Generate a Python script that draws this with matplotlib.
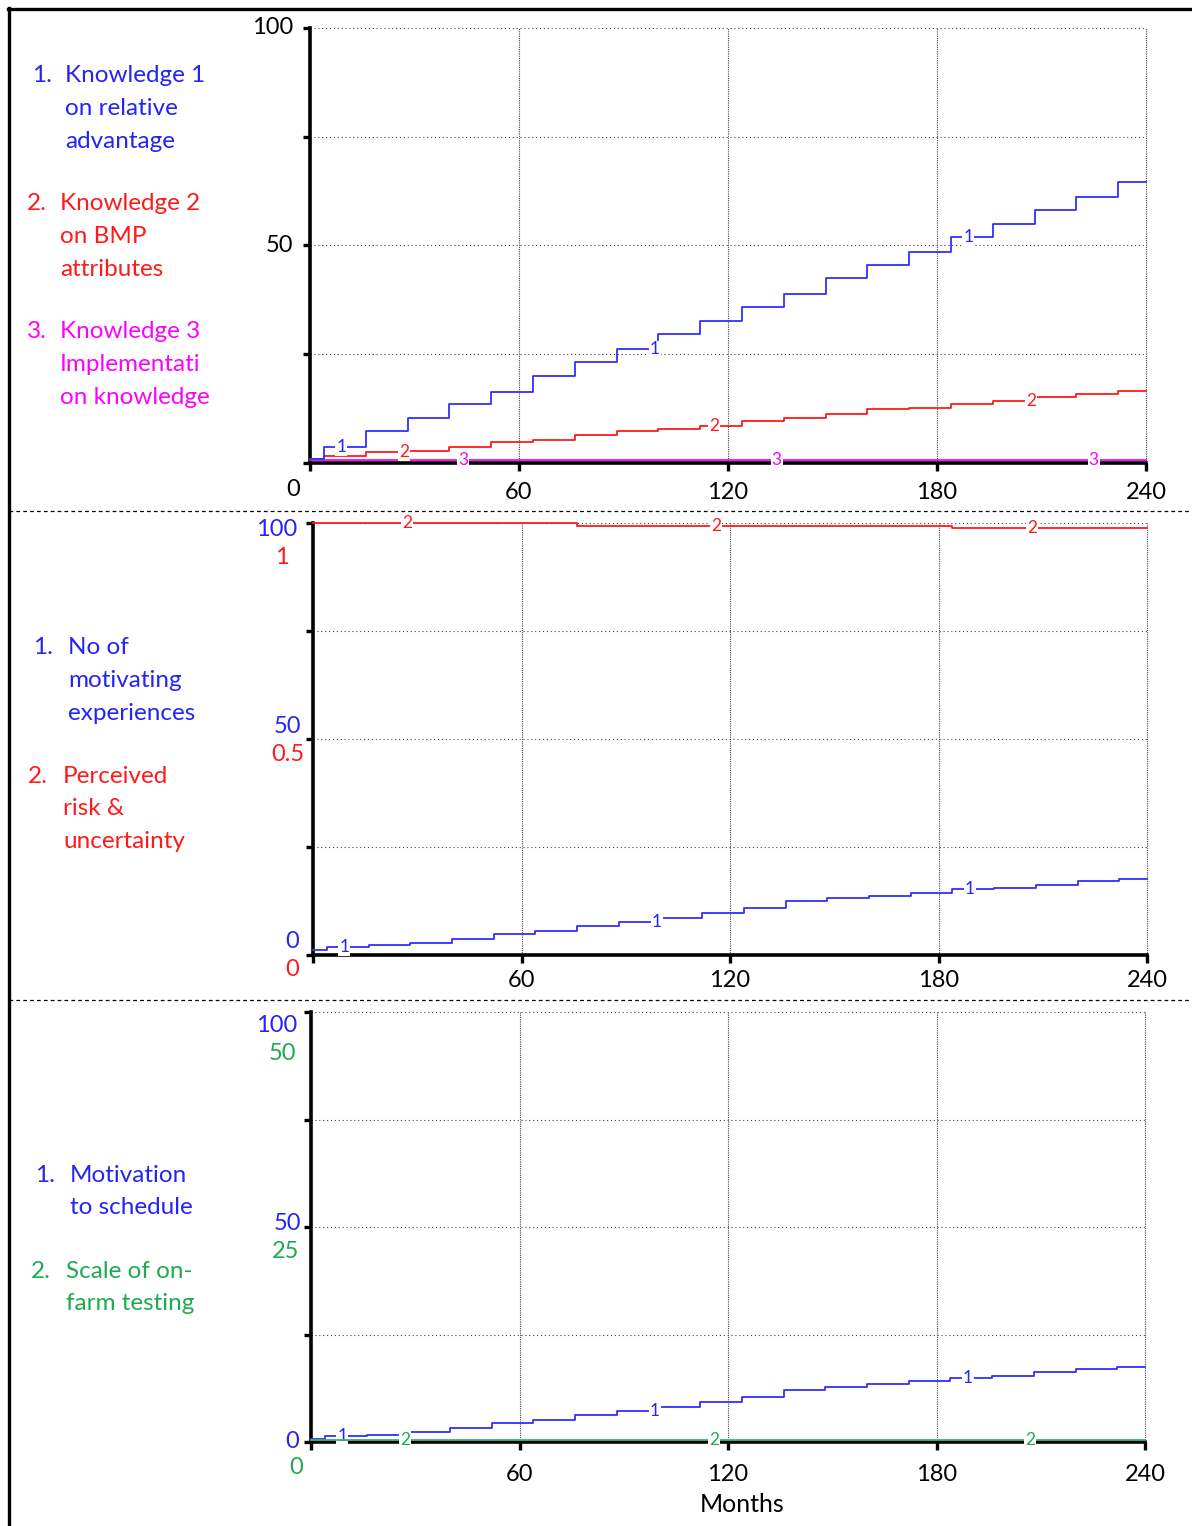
import matplotlib
matplotlib.use("Agg")
import matplotlib.pyplot as plt
from matplotlib.lines import Line2D

plt.rcParams['font.family'] = ['Lato', 'DejaVu Sans']

W, H = 1192, 1526

# months at which each stepped series changes level (simulation ends at 240)
months = [0, 4, 16, 28, 40, 52, 64, 76, 88, 100, 112, 124, 136, 148, 160,
          172, 184, 196, 208, 220, 232]
end_month = 240

# panel 1 (0-100)
knowledge1 = [1.0, 3.7, 7.4, 10.3, 13.5, 16.4, 20.0, 23.2, 26.1, 29.7, 32.6,
              35.8, 38.8, 42.5, 45.5, 48.5, 52.0, 55.0, 58.2, 61.1, 64.7]
knowledge2 = [1.0, 1.5, 2.6, 2.8, 3.7, 4.9, 5.4, 6.4, 7.4, 7.9, 8.5,
              9.6, 10.4, 11.3, 12.3, 12.6, 13.5, 14.3, 15.1, 15.9, 16.6]
knowledge3 = [0.7, 0.7, 0.7, 0.7, 0.7, 0.7, 0.7, 0.7, 0.7, 0.7, 0.7,
              0.7, 0.7, 0.7, 0.7, 0.7, 0.7, 0.7, 0.7, 0.7, 0.7]

# panel 2: experiences (0-100), perceived risk (0-1)
experiences = [1.2, 1.9, 2.2, 2.8, 3.7, 4.8, 5.6, 6.6, 7.6, 8.6, 9.8,
               10.8, 12.4, 13.3, 13.7, 14.4, 15.3, 15.6, 16.3, 17.2, 17.6]
perceived_risk = [1.0, 1.0, 1.0, 1.0, 1.0, 1.0, 1.0, 0.992, 0.992, 0.992,
                  0.992, 0.992, 0.992, 0.992, 0.992, 0.992, 0.988, 0.988,
                  0.988, 0.988, 0.988]

# panel 3: motivation (0-100), scale of testing (0-50)
motivation = [0.6, 1.3, 1.6, 2.3, 3.2, 4.4, 5.2, 6.2, 7.2, 8.1, 9.4,
              10.4, 12.0, 12.9, 13.4, 14.3, 14.8, 15.3, 16.2, 16.9, 17.4]
testing_scale = [0.25, 0.25, 0.25, 0.25, 0.25, 0.25, 0.25, 0.25, 0.25, 0.25,
                 0.25, 0.25, 0.25, 0.25, 0.25, 0.25, 0.25, 0.25, 0.25, 0.25,
                 0.25]

# months where the little series numbers sit on the lines
label_months = {1: [9, 99, 189], 2: [27, 116, 207], 3: [44, 134, 225]}

x_ticks = [0, 60, 120, 180, 240]
y_ticks = [0, 25, 50, 75, 100]

BLUE = '#2424f5'
LINE_BLUE = '#3030ff'
RED = '#ff1a1a'
MAGENTA = '#ff00ff'
GREEN = '#3cb371'
GREEN_TXT = '#1faa50'

fig = plt.figure(figsize=(W / 100, H / 100), dpi=100)


def fx(px):
    return px / W


def fy(py):
    return 1 - py / H


def level_at(levels, m):
    idx = 0
    for i, t in enumerate(months):
        if t <= m:
            idx = i
    return levels[idx]


def draw_series(ax, levels, color, num, txt_color=None):
    ax.step(months + [end_month], levels + [levels[-1]], where='post',
            color=color, lw=1.3, clip_on=False, zorder=3)
    for m in label_months[num]:
        ax.text(m, level_at(levels, m), str(num), color=txt_color or color,
                fontsize=12.5, ha='center', va='center', zorder=4,
                clip_on=False,
                bbox=dict(boxstyle='square,pad=0.05', fc='white', ec='none'))


def setup(ax, xlabels, pad):
    ax.set_xlim(0, 240)
    ax.set_ylim(0, 100)
    ax.spines['top'].set_visible(False)
    ax.spines['right'].set_visible(False)
    ax.spines['left'].set_linewidth(2.6)
    ax.spines['bottom'].set_linewidth(2.6)
    ax.set_xticks(x_ticks)
    ax.set_xticklabels(xlabels)
    ax.set_yticks(y_ticks)
    ax.tick_params(axis='x', direction='out', length=6, width=2.4,
                   labelsize=17, pad=pad)
    ax.tick_params(axis='y', direction='out', length=5, width=2.4,
                   labelleft=False)
    for v in [60, 120, 180, 240]:
        ax.axvline(v, color='#444444', lw=0.8, ls=(0, (1, 1)),
                   clip_on=False, zorder=1)
    for v in [25, 50, 75, 100]:
        ax.axhline(v, color='#444444', lw=0.8, ls=(0, (1, 2.5)),
                   clip_on=False, zorder=1)


def tick_text(ax, yval, text, color, left_px, tick_px, cx, cy):
    ax.annotate(text, xy=(0, yval), xycoords=('axes fraction', 'data'),
                xytext=((cx - left_px) * 0.72, -(cy - tick_px) * 0.72),
                textcoords='offset points', ha='center', va='center',
                color=color, fontsize=17, annotation_clip=False)


def legend_block(x_num, x_txt, y0, num, lines, color):
    fig.text(fx(x_num), fy(y0), num + '.', color=color, fontsize=17.5,
             ha='left', va='center')
    for i, line in enumerate(lines):
        fig.text(fx(x_txt), fy(y0 + i * 32.5), line, color=color,
                 fontsize=17.5, ha='left', va='center')


# ---- panel 1 ----
ax1 = fig.add_axes([fx(310), fy(463), fx(1146 - 310), (463 - 28) / H])
setup(ax1, ['', '60', '120', '180', '240'], 8)
draw_series(ax1, knowledge3, MAGENTA, 3)
draw_series(ax1, knowledge2, RED, 2)
draw_series(ax1, knowledge1, LINE_BLUE, 1, BLUE)
tick_text(ax1, 100, '100', 'black', 310, 28, 273, 28)
tick_text(ax1, 50, '50', 'black', 310, 245, 279, 245)
tick_text(ax1, 0, '0', 'black', 310, 463, 293, 489)

legend_block(32, 65, 76, '1', ['Knowledge 1', 'on relative', 'advantage'], BLUE)
legend_block(27, 60, 204, '2', ['Knowledge 2', 'on BMP', 'attributes'], RED)
legend_block(27, 60, 332, '3', ['Knowledge 3', 'Implementati', 'on knowledge'], MAGENTA)

# ---- panel 2 ----
ax2 = fig.add_axes([fx(313), fy(955), fx(1147 - 313), (955 - 523) / H])
setup(ax2, ['', '60', '120', '180', '240'], 5)
draw_series(ax2, experiences, LINE_BLUE, 1, BLUE)
ax2r = ax2.twinx()
ax2r.set_ylim(0, 1)
ax2r.axis('off')
draw_series(ax2r, perceived_risk, RED, 2)
tick_text(ax2, 100, '100', BLUE, 313, 523, 277, 529)
tick_text(ax2, 100, '1', RED, 313, 523, 282, 557)
tick_text(ax2, 50, '50', BLUE, 313, 739, 287, 727)
tick_text(ax2, 50, '0.5', RED, 313, 739, 288, 755)
tick_text(ax2, 0, '0', BLUE, 313, 955, 292, 942)
tick_text(ax2, 0, '0', RED, 313, 955, 292, 970)

legend_block(33, 68, 648, '1', ['No of', 'motivating', 'experiences'], BLUE)
legend_block(28, 63, 776, '2', ['Perceived', 'risk &', 'uncertainty'], RED)

# ---- panel 3 ----
ax3 = fig.add_axes([fx(311), fy(1442), fx(1145 - 311), (1442 - 1012) / H])
setup(ax3, ['', '60', '120', '180', '240'], 10)
draw_series(ax3, motivation, LINE_BLUE, 1, BLUE)
ax3r = ax3.twinx()
ax3r.set_ylim(0, 50)
ax3r.axis('off')
draw_series(ax3r, testing_scale, GREEN, 2, GREEN_TXT)
tick_text(ax3, 100, '100', BLUE, 311, 1012, 277, 1025)
tick_text(ax3, 100, '50', GREEN_TXT, 311, 1012, 282, 1053)
tick_text(ax3, 50, '50', BLUE, 311, 1227, 287, 1224)
tick_text(ax3, 50, '25', GREEN_TXT, 311, 1227, 286, 1252)
tick_text(ax3, 0, '0', BLUE, 311, 1442, 292, 1441)
tick_text(ax3, 0, '0', GREEN_TXT, 311, 1442, 296, 1468)
ax3.set_xlabel('Months', fontsize=18, va='center')
ax3.xaxis.set_label_coords((742 - 311) / 834, -(1505 - 1442) / 430)

legend_block(35, 70, 1175, '1', ['Motivation', 'to schedule'], BLUE)
legend_block(31, 66, 1271, '2', ['Scale of on-', 'farm testing'], GREEN_TXT)

# ---- frame and separators ----
fig.add_artist(Line2D([fx(8), 1], [fy(9), fy(9)], color='black', lw=2.4))
fig.add_artist(Line2D([fx(9), fx(9)], [fy(8), 0], color='black', lw=2.4))
for ysep in [511, 1000]:
    fig.add_artist(Line2D([fx(9), 1], [fy(ysep), fy(ysep)], color='black',
                          lw=0.9, ls=(0, (3, 2.5))))

fig.savefig('out.png', dpi=100)
